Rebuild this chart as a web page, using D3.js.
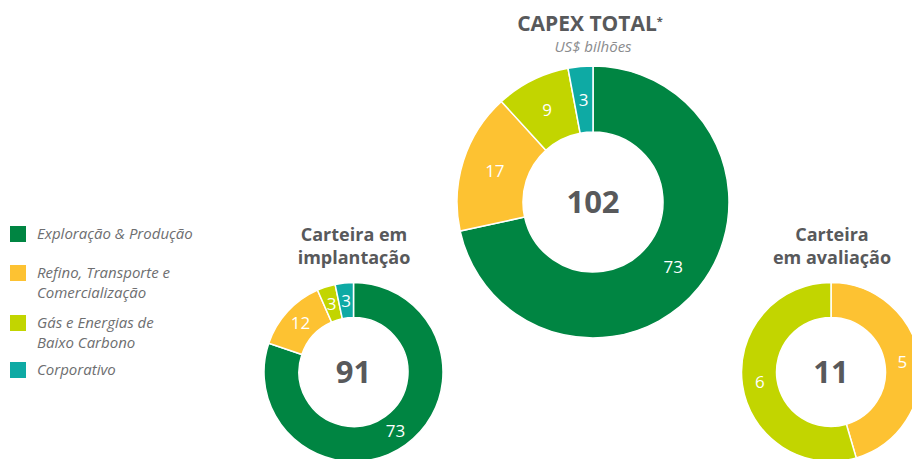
<!DOCTYPE html>
<html>
<head>
<meta charset="utf-8">
<script src="https://cdn.jsdelivr.net/npm/d3@7"></script>
<style>
  body { margin: 0; background: #fff; }
  svg { display: block; font-family: "Open Sans", "Noto Sans", sans-serif; }
  .slice-label { fill: #fff; font-size: 17px; }
  .center-label { fill: #58595b; font-size: 31px; font-weight: 700; }
  .title { fill: #58595b; font-weight: 700; font-size: 18px; }
  .legend-label { fill: #6d6e70; font-size: 15px; font-style: italic; }
</style>
</head>
<body>
<div id="chart"></div>
<script>
// segments, in drawing order (clockwise from 12 o'clock)
const categories = ['Exploração & Produção', 'Refino, Transporte e Comercialização', 'Gás e Energias de Baixo Carbono', 'Corporativo'];
const legendLines = [['Exploração & Produção'], ['Refino, Transporte e', 'Comercialização'], ['Gás e Energias de', 'Baixo Carbono'], ['Corporativo']];
const colors = ['#008542', '#fdc232', '#c2d500', '#0eaaa4'];

// US$ bilhões
const capexTotal = [73, 17, 9, 3];
const carteiraImplantacao = [73, 12, 3, 3];
const carteiraAvaliacao = [0, 5, 6, 0];

const titleTotal = 'CAPEX TOTAL';
const subtitleTotal = 'US$ bilhões';
const titleImplantacao = ['Carteira em', 'implantação'];
const titleAvaliacao = ['Carteira', 'em avaliação'];

const width = 912, height = 459;

const svg = d3.select('#chart').append('svg')
    .attr('width', width)
    .attr('height', height);

const pie = d3.pie().sort(null).value(d => d);

function drawDonut(values, cfg) {
  const g = svg.append('g')
      .attr('transform', `translate(${cfg.cx},${cfg.cy})`);

  const arc = d3.arc().innerRadius(cfg.inner).outerRadius(cfg.outer);
  const arcs = pie(values).map((d, i) => Object.assign(d, {cat: i}));

  g.selectAll('.slice')
      .data(arcs.filter(d => d.value > 0))
    .join('path')
      .attr('class', 'slice')
      .attr('d', arc)
      .attr('fill', d => colors[d.cat])
      .attr('stroke', '#fff')
      .attr('stroke-width', 1.5);

  g.selectAll('.slice-label')
      .data(arcs.filter(d => d.value > 0))
    .join('text')
      .attr('class', 'slice-label')
      .attr('text-anchor', 'middle')
      .attr('dy', '.36em')
      .attr('x', d => arc.centroid(d)[0])
      .attr('y', d => arc.centroid(d)[1])
      .text(d => d.value);

  g.append('text')
      .attr('class', 'center-label')
      .attr('text-anchor', 'middle')
      .attr('dy', '.36em')
      .text(d3.sum(values));
}

drawDonut(capexTotal, {cx: 593, cy: 202, inner: 70, outer: 136});
drawDonut(carteiraImplantacao, {cx: 353.5, cy: 372, inner: 54.5, outer: 89.5});
drawDonut(carteiraAvaliacao, {cx: 831, cy: 372, inner: 54.5, outer: 89.5});

// titles
const tTotal = svg.append('text')
    .attr('class', 'title')
    .attr('x', 590)
    .attr('y', 31)
    .attr('text-anchor', 'middle')
    .style('font-size', '21px');
tTotal.append('tspan').text(titleTotal);
tTotal.append('tspan')
    .attr('dy', -6)
    .style('font-size', '11px')
    .text('*');

svg.append('text')
    .attr('x', 593)
    .attr('y', 52)
    .attr('text-anchor', 'middle')
    .style('font-size', '15px')
    .style('font-style', 'italic')
    .style('fill', '#8a8b8d')
    .text(subtitleTotal);

function multiTitle(lines, x, y) {
  svg.append('g').selectAll('text')
      .data(lines)
    .join('text')
      .attr('class', 'title')
      .attr('text-anchor', 'middle')
      .attr('x', x)
      .attr('y', (d, i) => y + i * 23)
      .text(d => d);
}
multiTitle(titleImplantacao, 354, 241);
multiTitle(titleAvaliacao, 832, 241);

// legend
const legendTops = [226, 265, 315, 362];
const legend = svg.append('g').attr('class', 'legend');
const items = legend.selectAll('g')
    .data(categories)
  .join('g')
    .attr('transform', (d, i) => `translate(10,${legendTops[i]})`);

items.append('rect')
    .attr('width', 16)
    .attr('height', 16)
    .attr('fill', (d, i) => colors[i]);

items.append('text')
    .attr('class', 'legend-label')
    .attr('x', 27)
    .attr('y', 13)
  .selectAll('tspan')
    .data((d, i) => legendLines[i])
  .join('tspan')
    .attr('x', 27)
    .attr('dy', (d, i) => i === 0 ? 0 : 20)
    .text(d => d);
</script>
</body>
</html>
